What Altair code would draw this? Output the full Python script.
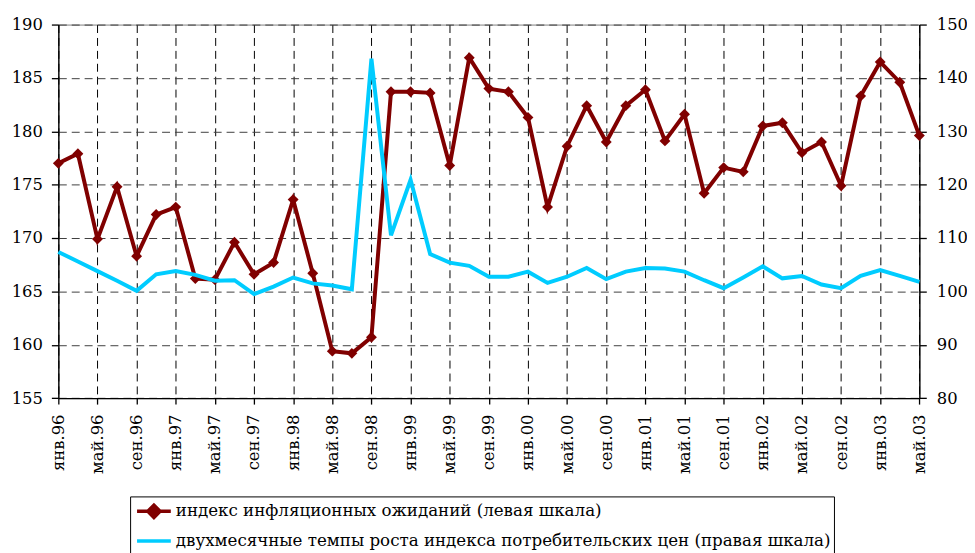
import altair as alt
import pandas as pd

periods = [
    "янв.96", "мар.96", "май.96", "июл.96", "сен.96", "ноя.96",
    "янв.97", "мар.97", "май.97", "июл.97", "сен.97", "ноя.97",
    "янв.98", "мар.98", "май.98", "июл.98", "сен.98", "ноя.98",
    "янв.99", "мар.99", "май.99", "июл.99", "сен.99", "ноя.99",
    "янв.00", "мар.00", "май.00", "июл.00", "сен.00", "ноя.00",
    "янв.01", "мар.01", "май.01", "июл.01", "сен.01", "ноя.01",
    "янв.02", "мар.02", "май.02", "июл.02", "сен.02", "ноя.02",
    "янв.03", "мар.03", "май.03",
]

tick_labels = [
    "янв.96", "май.96", "сен.96", "янв.97", "май.97", "сен.97",
    "янв.98", "май.98", "сен.98", "янв.99", "май.99", "сен.99",
    "янв.00", "май.00", "сен.00", "янв.01", "май.01", "сен.01",
    "янв.02", "май.02", "сен.02", "янв.03", "май.03",
]

expectations = [
    177.0, 177.9, 169.9, 174.8, 168.3, 172.2, 172.9, 166.2, 166.1, 169.6,
    166.6, 167.7, 173.6, 166.7, 159.4, 159.2, 160.7, 183.7, 183.7, 183.6,
    176.8, 186.9, 184.0, 183.7, 181.3, 172.9, 178.6, 182.4, 179.0, 182.4,
    183.9, 179.1, 181.6, 174.2, 176.6, 176.2, 180.5, 180.8, 178.0, 179.0,
    174.9, 183.3, 186.5, 184.6, 179.6,
]

cpi_growth = [
    107.4, 105.6, 103.8, 102.0, 100.1, 103.2, 103.8, 103.1, 102.0, 102.1,
    99.5, 100.9, 102.6, 101.5, 101.1, 100.4, 143.6, 110.5, 120.9, 107.0,
    105.4, 104.8, 102.75, 102.75, 103.7, 101.6, 102.75, 104.4, 102.3, 103.7,
    104.4, 104.3, 103.7, 102.1, 100.6, 102.6, 104.7, 102.45, 102.9, 101.3,
    100.6, 102.9, 104.0, 102.9, 101.8,
]

series_names = [
    "индекс инфляционных ожиданий (левая шкала)",
    "двухмесячные темпы роста индекса потребительских цен (правая шкала)",
]
series_colors = ["#800000", "#00CCFF"]
legend_shapes = [
    "M-1.7,0L1.7,0M-0.62,0L0,-0.62L0.62,0L0,0.62Z",
    "M-1.7,0L1.7,0",
]

left_ticks = [155, 160, 165, 170, 175, 180, 185, 190]
right_ticks = [80, 90, 100, 110, 120, 130, 140, 150]

df = pd.DataFrame({"period": periods, "expect": expectations, "cpi": cpi_growth})
legend_df = pd.DataFrame({"series": series_names})

FONT = "DejaVu Serif"

x_enc = alt.X(
    "period:O",
    sort=periods,
    scale=alt.Scale(type="point", padding=0),
    axis=alt.Axis(
        values=tick_labels,
        labelAngle=-90,
        grid=True,
        gridDash=[8, 5],
        gridColor="black",
        gridWidth=1,
        title=None,
        labelFontSize=16.5,
        labelFont=FONT,
        tickSize=6,
        labelPadding=10,
    ),
)

y_left = alt.Y(
    "expect:Q",
    scale=alt.Scale(domain=[155, 190], nice=False, zero=False),
    axis=alt.Axis(
        values=left_ticks,
        grid=True,
        gridDash=[8, 5],
        gridColor="#404040",
        title=None,
        labelFontSize=16.5,
        labelFont=FONT,
        tickSize=7,
        labelPadding=9,
    ),
)

y_right = alt.Y(
    "cpi:Q",
    scale=alt.Scale(domain=[80, 150], nice=False, zero=False),
    axis=alt.Axis(
        values=right_ticks,
        orient="right",
        grid=False,
        title=None,
        labelFontSize=16.5,
        labelFont=FONT,
        tickSize=7,
        labelPadding=10,
    ),
)

base = alt.Chart(df)

line_left = base.mark_line(color=series_colors[0], strokeWidth=4).encode(x=x_enc, y=y_left)
pts_left = base.mark_point(
    shape="diamond", filled=True, size=120, color=series_colors[0], opacity=1
).encode(x=x_enc, y=y_left)
left = alt.layer(line_left, pts_left)

right = base.mark_line(color=series_colors[1], strokeWidth=4).encode(x=x_enc, y=y_right)

legend = alt.Legend(
    title=None,
    orient="none",
    legendX=72.3,
    legendY=475.3,
    symbolSize=400,
    symbolStrokeWidth=3.5,
    symbolOffset=9,
    labelOffset=10,
    labelFont=FONT,
    labelFontSize=16.8,
    labelColor="black",
    labelLimit=0,
    strokeColor="black",
    fillColor="white",
    padding=3,
    rowPadding=4,
)

legend_layer = alt.Chart(legend_df).transform_filter("false").mark_point(
    filled=True, opacity=1
).encode(
    fill=alt.Fill("series:N", scale=alt.Scale(domain=series_names, range=series_colors), legend=legend),
    stroke=alt.Stroke("series:N", scale=alt.Scale(domain=series_names, range=series_colors), legend=legend),
    shape=alt.Shape("series:N", scale=alt.Scale(domain=series_names, range=legend_shapes), legend=legend),
)

chart = alt.layer(left, right, legend_layer).resolve_scale(y="independent").properties(
    width=867.3,
    height=376.3,
    padding={"left": 50.7, "top": 14.7, "right": 48, "bottom": 154},
    autosize=alt.AutoSizeParams(type="none"),
).configure_view(
    stroke="#808080", strokeWidth=1
).configure_axis(
    labelColor="black",
    domainColor="black",
    domainWidth=1.3,
    tickColor="black",
    tickWidth=1.3,
)

chart.save("out.html", embed_options={"renderer": "svg", "actions": False})
